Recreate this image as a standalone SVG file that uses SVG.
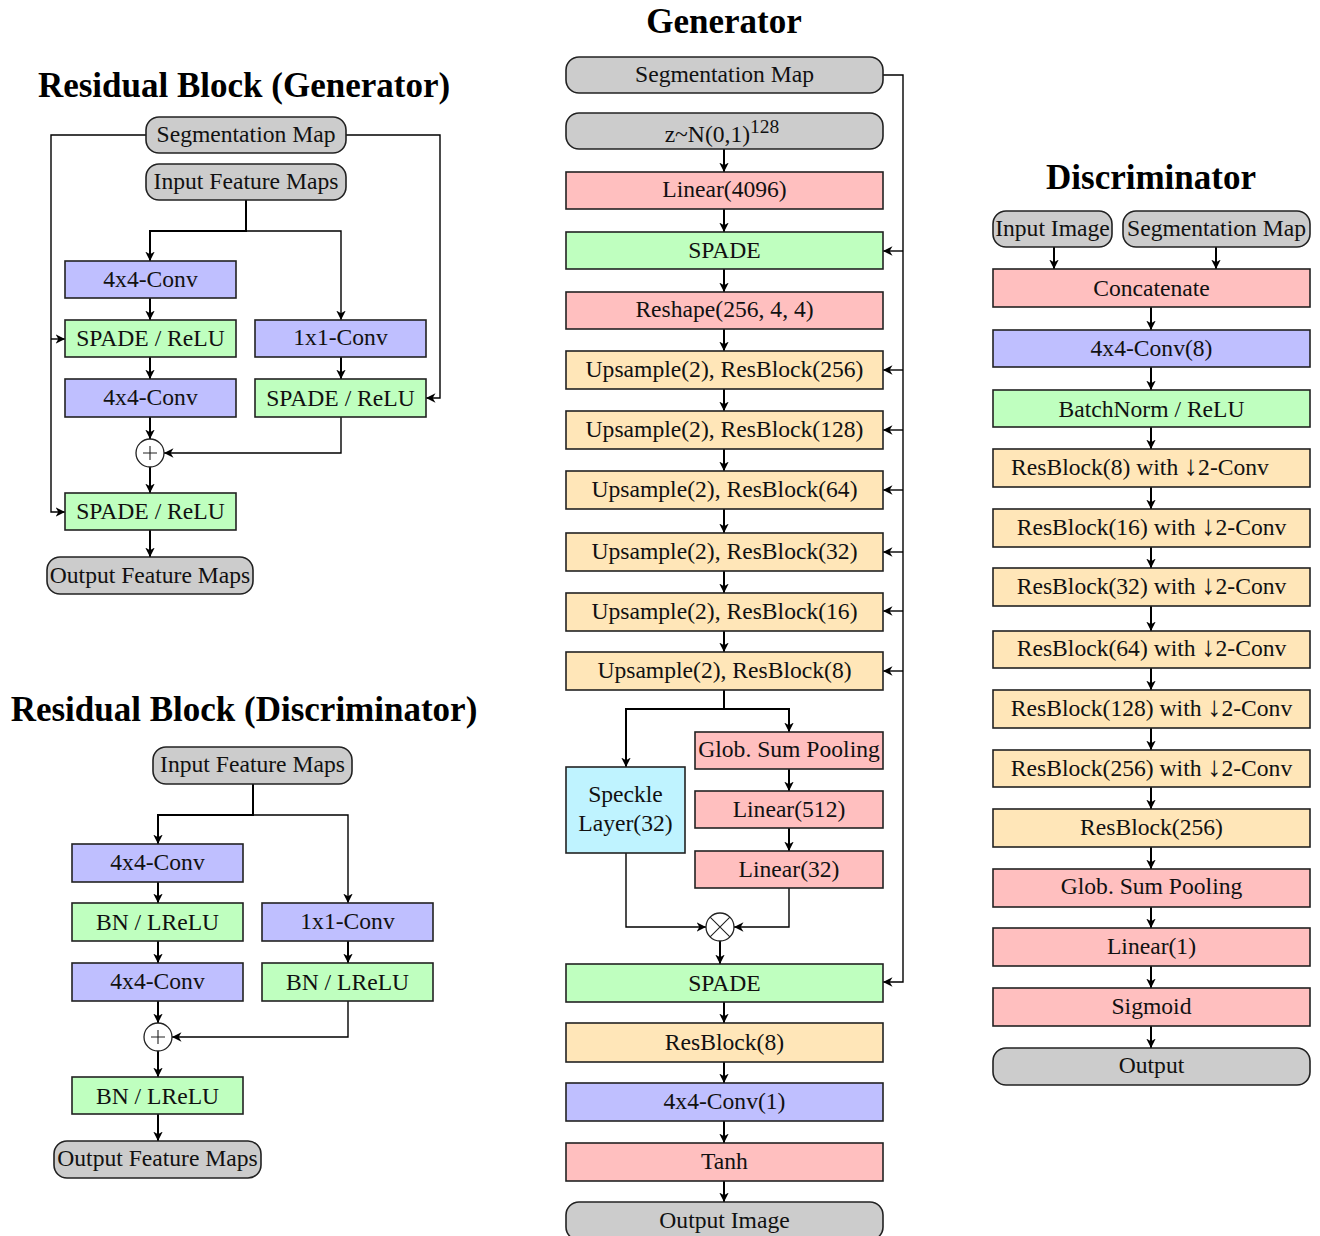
<svg xmlns="http://www.w3.org/2000/svg" width="1320" height="1236" viewBox="0 0 1320 1236">
<defs>
<marker id="ah" viewBox="0 0 10 10" refX="10" refY="5" markerWidth="9.5" markerHeight="9.5" markerUnits="userSpaceOnUse" orient="auto"><path d="M0,0 L10,5 L0,10 L3,5 z" fill="#000"/></marker>
<style>
text{font-family:"Liberation Serif","Times New Roman",serif;font-size:23.6px;fill:#111;text-anchor:middle}
.title{font-size:35px;font-weight:bold;fill:#000}
.dn{font-size:28px}
.b{stroke:#222;stroke-width:1.6}
.gray{fill:#cccccc}
.blue{fill:#bfbfff}
.green{fill:#bfffbf}
.red{fill:#ffbfbf}
.yel{fill:#ffe6b8}
.cyan{fill:#bff3ff}
.op{fill:#fff;stroke:#222;stroke-width:1.3}
.opl{stroke:#222;stroke-width:1.1;fill:none}
.f{fill:none;stroke:#000;stroke-width:2}
.s{fill:none;stroke:#000;stroke-width:1.4}
.a{marker-end:url(#ah)}
</style>
</defs>
<rect width="1320" height="1236" fill="#fff"/>

<text class="title" x="244" y="97">Residual Block (Generator)</text>
<text class="title" x="244" y="721">Residual Block (Discriminator)</text>
<text class="title" x="724" y="33">Generator</text>
<text class="title" x="1151" y="189">Discriminator</text>

<g id="connectors">
<path class="f" d="M246,200 V231 H150 V261"/>
<path class="s a" d="M246,231 H341 V320"/>
<path class="f a" d="M150,231 V261"/>
<path class="f a" d="M150,298 V320"/>
<path class="f a" d="M150,357 V379"/>
<path class="f a" d="M150,417 V439"/>
<path class="f a" d="M150,467 V493"/>
<path class="f a" d="M150,530 V557"/>
<path class="f a" d="M341,357 V379"/>
<path class="s a" d="M341,417 V453 H164"/>
<path class="s a" d="M146,135 H51 V512 H65"/>
<path class="s a" d="M51,339 H65"/>
<path class="s a" d="M346,135 H440 V398 H426"/>
<path class="f" d="M253,784 V815 H158 V844"/>
<path class="f a" d="M158,815 V844"/>
<path class="s a" d="M253,815 H348 V903"/>
<path class="f a" d="M158,882 V903"/>
<path class="f a" d="M158,941 V963"/>
<path class="f a" d="M158,1001 V1023"/>
<path class="f a" d="M158,1051 V1077"/>
<path class="f a" d="M158,1114 V1141"/>
<path class="f a" d="M348,941 V963"/>
<path class="s a" d="M348,1001 V1037 H172"/>
<path class="s a" d="M883,75 H903 V982 H883"/>
<path class="s a" d="M903,251 H883"/>
<path class="s a" d="M903,370 H883"/>
<path class="s a" d="M903,430 H883"/>
<path class="s a" d="M903,490 H883"/>
<path class="s a" d="M903,552 H883"/>
<path class="s a" d="M903,611 H883"/>
<path class="s a" d="M903,671 H883"/>
<path class="f a" d="M724,149 V172"/>
<path class="f a" d="M724,209 V232"/>
<path class="f a" d="M724,269 V292"/>
<path class="f a" d="M724,329 V351"/>
<path class="f a" d="M724,389 V411"/>
<path class="f a" d="M724,449 V471"/>
<path class="f a" d="M724,509 V533"/>
<path class="f a" d="M724,571 V593"/>
<path class="f a" d="M724,631 V652"/>
<path class="f" d="M724,690 V709"/>
<path class="f a" d="M724,709 H626 V767"/>
<path class="f a" d="M724,709 H789 V732"/>
<path class="f a" d="M789,769 V791"/>
<path class="f a" d="M789,828 V851"/>
<path class="s a" d="M626,853 V927 H706"/>
<path class="s a" d="M789,888 V927 H734"/>
<path class="f a" d="M720,941 V964"/>
<path class="f a" d="M724,1002 V1023"/>
<path class="f a" d="M724,1062 V1083"/>
<path class="f a" d="M724,1121 V1143"/>
<path class="f a" d="M724,1181 V1202"/>
<path class="f a" d="M1054,247 V269"/>
<path class="f a" d="M1216,247 V269"/>
<path class="f a" d="M1151,307 V330"/>
<path class="f a" d="M1151,367 V390"/>
<path class="f a" d="M1151,427 V449"/>
<path class="f a" d="M1151,487 V509"/>
<path class="f a" d="M1151,547 V568"/>
<path class="f a" d="M1151,606 V631"/>
<path class="f a" d="M1151,668 V690"/>
<path class="f a" d="M1151,728 V750"/>
<path class="f a" d="M1151,787 V809"/>
<path class="f a" d="M1151,847 V869"/>
<path class="f a" d="M1151,907 V928"/>
<path class="f a" d="M1151,966 V988"/>
<path class="f a" d="M1151,1026 V1048"/>
</g>

<g id="rg-seg"><rect class="b gray" x="146" y="117" width="200" height="36" rx="13"/><text x="246" y="142">Segmentation Map</text></g>
<g id="rg-in"><rect class="b gray" x="146" y="164" width="200" height="36" rx="13"/><text x="246" y="189">Input Feature Maps</text></g>
<g id="rg-conv1"><rect class="b blue" x="65" y="261" width="171" height="37"/><text x="150.5" y="287">4x4-Conv</text></g>
<g id="rg-spade1"><rect class="b green" x="65" y="320" width="171" height="37"/><text x="150.5" y="346">SPADE / ReLU</text></g>
<g id="rg-conv1x1"><rect class="b blue" x="255" y="320" width="171" height="37"/><text x="340.5" y="345">1x1-Conv</text></g>
<g id="rg-conv2"><rect class="b blue" x="65" y="379" width="171" height="38"/><text x="150.5" y="405">4x4-Conv</text></g>
<g id="rg-spade2"><rect class="b green" x="255" y="379" width="171" height="38"/><text x="340.5" y="406">SPADE / ReLU</text></g>
<g id="rg-plus"><circle class="op" cx="150" cy="453" r="14"/><path class="opl" d="M143,453 H157 M150,446 V460"/></g>
<g id="rg-spade3"><rect class="b green" x="65" y="493" width="171" height="37"/><text x="150.5" y="519">SPADE / ReLU</text></g>
<g id="rg-out"><rect class="b gray" x="47" y="557" width="206" height="37" rx="13"/><text x="150" y="583">Output Feature Maps</text></g>

<g id="rd-in"><rect class="b gray" x="153" y="747" width="199" height="37" rx="13"/><text x="252.5" y="772">Input Feature Maps</text></g>
<g id="rd-conv1"><rect class="b blue" x="72" y="844" width="171" height="38"/><text x="157.5" y="870">4x4-Conv</text></g>
<g id="rd-bn1"><rect class="b green" x="72" y="903" width="171" height="38"/><text x="157.5" y="930">BN / LReLU</text></g>
<g id="rd-conv1x1"><rect class="b blue" x="262" y="903" width="171" height="38"/><text x="347.5" y="929">1x1-Conv</text></g>
<g id="rd-conv2"><rect class="b blue" x="72" y="963" width="171" height="38"/><text x="157.5" y="989">4x4-Conv</text></g>
<g id="rd-bn2"><rect class="b green" x="262" y="963" width="171" height="38"/><text x="347.5" y="990">BN / LReLU</text></g>
<g id="rd-plus"><circle class="op" cx="158" cy="1037" r="14"/><path class="opl" d="M151,1037 H165 M158,1030 V1044"/></g>
<g id="rd-bn3"><rect class="b green" x="72" y="1077" width="171" height="37"/><text x="157.5" y="1104">BN / LReLU</text></g>
<g id="rd-out"><rect class="b gray" x="54" y="1141" width="207" height="37" rx="13"/><text x="157.5" y="1166">Output Feature Maps</text></g>

<g id="g-seg"><rect class="b gray" x="566" y="57" width="317" height="36" rx="13"/><text x="724.5" y="82">Segmentation Map</text></g>
<g id="g-z"><rect class="b gray" x="566" y="113" width="317" height="36" rx="13"/><text x="722" y="142">z~N(0,1)<tspan dy="-9" font-size="19.5">128</tspan></text></g>
<g id="g-lin4096"><rect class="b red" x="566" y="172" width="317" height="37"/><text x="724.5" y="197">Linear(4096)</text></g>
<g id="g-spade1"><rect class="b green" x="566" y="232" width="317" height="37"/><text x="724.5" y="258">SPADE</text></g>
<g id="g-reshape"><rect class="b red" x="566" y="292" width="317" height="37"/><text x="724.5" y="317">Reshape(256, 4, 4)</text></g>
<g id="g-up256"><rect class="b yel" x="566" y="351" width="317" height="38"/><text x="724.5" y="377">Upsample(2), ResBlock(256)</text></g>
<g id="g-up128"><rect class="b yel" x="566" y="411" width="317" height="38"/><text x="724.5" y="437">Upsample(2), ResBlock(128)</text></g>
<g id="g-up64"><rect class="b yel" x="566" y="471" width="317" height="38"/><text x="724.5" y="497">Upsample(2), ResBlock(64)</text></g>
<g id="g-up32"><rect class="b yel" x="566" y="533" width="317" height="38"/><text x="724.5" y="559">Upsample(2), ResBlock(32)</text></g>
<g id="g-up16"><rect class="b yel" x="566" y="593" width="317" height="38"/><text x="724.5" y="619">Upsample(2), ResBlock(16)</text></g>
<g id="g-up8"><rect class="b yel" x="566" y="652" width="317" height="38"/><text x="724.5" y="678">Upsample(2), ResBlock(8)</text></g>
<g id="g-speckle"><rect class="b cyan" x="566" y="767" width="119" height="86"/><text x="625.5" y="802">Speckle</text><text x="625.5" y="831">Layer(32)</text></g>
<g id="g-glob"><rect class="b red" x="695" y="732" width="188" height="37"/><text x="789" y="757">Glob. Sum Pooling</text></g>
<g id="g-lin512"><rect class="b red" x="695" y="791" width="188" height="37"/><text x="789" y="817">Linear(512)</text></g>
<g id="g-lin32"><rect class="b red" x="695" y="851" width="188" height="37"/><text x="789" y="877">Linear(32)</text></g>
<g id="g-mul"><circle class="op" cx="720" cy="927" r="14"/><path class="opl" d="M710.1,917.1 L729.9,936.9 M710.1,936.9 L729.9,917.1"/></g>
<g id="g-spade2"><rect class="b green" x="566" y="964" width="317" height="38"/><text x="724.5" y="991">SPADE</text></g>
<g id="g-res8"><rect class="b yel" x="566" y="1023" width="317" height="39"/><text x="724.5" y="1050">ResBlock(8)</text></g>
<g id="g-conv"><rect class="b blue" x="566" y="1083" width="317" height="38"/><text x="724.5" y="1109">4x4-Conv(1)</text></g>
<g id="g-tanh"><rect class="b red" x="566" y="1143" width="317" height="38"/><text x="724.5" y="1169">Tanh</text></g>
<g id="g-out"><rect class="b gray" x="566" y="1202" width="317" height="38" rx="13"/><text x="724.5" y="1228">Output Image</text></g>

<g id="d-img"><rect class="b gray" x="993" y="211" width="119" height="36" rx="13"/><text x="1052.5" y="236">Input Image</text></g>
<g id="d-seg"><rect class="b gray" x="1123" y="211" width="187" height="36" rx="13"/><text x="1216.5" y="236">Segmentation Map</text></g>
<g id="d-concat"><rect class="b red" x="993" y="269" width="317" height="38"/><text x="1151.5" y="296">Concatenate</text></g>
<g id="d-conv8"><rect class="b blue" x="993" y="330" width="317" height="37"/><text x="1151.5" y="356">4x4-Conv(8)</text></g>
<g id="d-bn"><rect class="b green" x="993" y="390" width="317" height="37"/><text x="1151.5" y="417">BatchNorm / ReLU</text></g>
<g id="d-r8"><rect class="b yel" x="993" y="449" width="317" height="38"/><text x="1140" y="475">ResBlock(8) with <tspan class="dn">↓</tspan>2-Conv</text></g>
<g id="d-r16"><rect class="b yel" x="993" y="509" width="317" height="38"/><text x="1151.5" y="535">ResBlock(16) with <tspan class="dn">↓</tspan>2-Conv</text></g>
<g id="d-r32"><rect class="b yel" x="993" y="568" width="317" height="38"/><text x="1151.5" y="594">ResBlock(32) with <tspan class="dn">↓</tspan>2-Conv</text></g>
<g id="d-r64"><rect class="b yel" x="993" y="631" width="317" height="37"/><text x="1151.5" y="656">ResBlock(64) with <tspan class="dn">↓</tspan>2-Conv</text></g>
<g id="d-r128"><rect class="b yel" x="993" y="690" width="317" height="38"/><text x="1151.5" y="716">ResBlock(128) with <tspan class="dn">↓</tspan>2-Conv</text></g>
<g id="d-r256d"><rect class="b yel" x="993" y="750" width="317" height="37"/><text x="1151.5" y="776">ResBlock(256) with <tspan class="dn">↓</tspan>2-Conv</text></g>
<g id="d-r256"><rect class="b yel" x="993" y="809" width="317" height="38"/><text x="1151.5" y="835">ResBlock(256)</text></g>
<g id="d-glob"><rect class="b red" x="993" y="869" width="317" height="38"/><text x="1151.5" y="894">Glob. Sum Pooling</text></g>
<g id="d-lin"><rect class="b red" x="993" y="928" width="317" height="38"/><text x="1151.5" y="954">Linear(1)</text></g>
<g id="d-sig"><rect class="b red" x="993" y="988" width="317" height="38"/><text x="1151.5" y="1014">Sigmoid</text></g>
<g id="d-out"><rect class="b gray" x="993" y="1048" width="317" height="37" rx="13"/><text x="1151.5" y="1073">Output</text></g>
</svg>
